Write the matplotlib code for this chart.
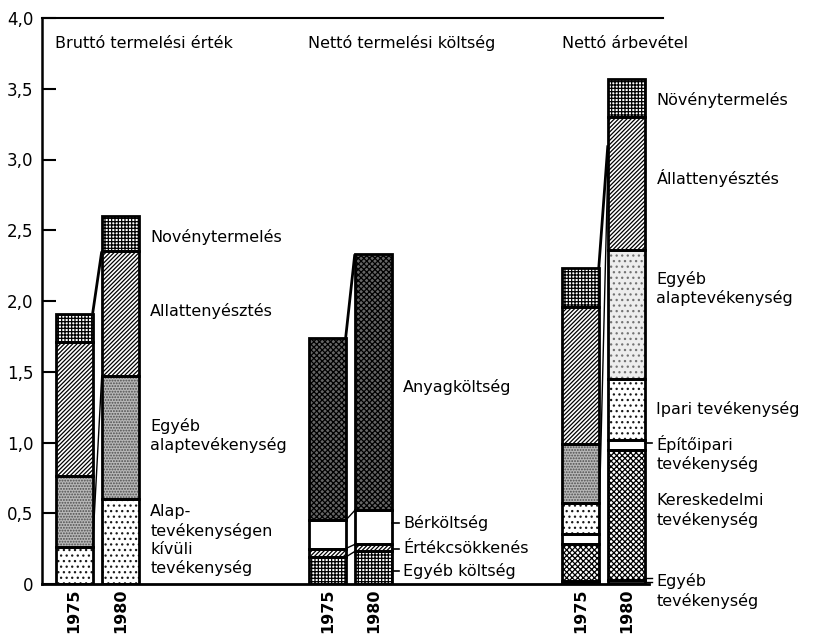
import matplotlib.pyplot as plt

# ----- data -----
years = ["1975", "1980"]
group_titles = ["Bruttó termelési érték", "Nettó termelési költség", "Nettó árbevétel"]

# segments listed bottom -> top
brutto_labels = ["Alap-\ntevékenységen\nkívüli\ntevékenység", "Egyéb\nalaptevékenység",
                 "Allattenyésztés", "Novénytermelés"]
brutto_1975 = [0.26, 0.50, 0.95, 0.20]
brutto_1980 = [0.60, 0.87, 0.88, 0.25]

koltseg_labels = ["Egyéb költség", "Értékcsökkenés", "Bérköltség", "Anyagköltség"]
koltseg_1975 = [0.19, 0.06, 0.20, 1.29]
koltseg_1980 = [0.23, 0.05, 0.24, 1.81]

arbevetel_labels = ["Egyéb\ntevékenység", "Kereskedelmi\ntevékenység", "Építőipari\ntevékenység",
                    "Ipari tevékenység", "Egyéb\nalaptevékenység", "Állattenyésztés", "Növénytermelés"]
arbevetel_1975 = [0.02, 0.26, 0.07, 0.22, 0.42, 0.97, 0.27]
arbevetel_1980 = [0.03, 0.92, 0.07, 0.43, 0.91, 0.94, 0.27]

# label heights (y value of label centre) on the right of each group
brutto_label_y = [0.31, 1.05, 1.93, 2.45]
koltseg_label_y = [0.09, 0.25, 0.43, 1.39]
arbevetel_label_y = [-0.05, 0.52, 0.92, 1.24, 2.09, 2.87, 3.42]

# connector lines between 1975 and 1980 bars: (value at 1975, value at 1980)
brutto_links = [(1.91, 2.35), (0.26, 1.47)]
koltseg_links = [(1.74, 2.33), (0.45, 0.52), (0.25, 0.28), (0.19, 0.23)]
arbevetel_links = [(2.23, 3.10), (0.35, 2.95)]

yticks = [0, 0.5, 1.0, 1.5, 2.0, 2.5, 3.0, 3.5, 4.0]
ytick_labels = ["0", "0,5", "1,0", "1,5", "2,0", "2,5", "3,0", "3,5", "4,0"]

# ----- styles: (facecolor, hatch, hatchcolor) -----
GRID = ("white", "+++++", "black")
DIAG = ("white", "////////", "black")
STIPPLE = ("0.72", "......", "0.3")
STIPPLE_LIGHT = ("0.93", "...", "0.45")
DOTS = ("white", "...", "0.1")
WHITE = ("white", "", "black")
DARK_X = ("0.4", "xxxxxx", "black")
LIGHT_X = ("white", "xxxxxx", "black")
BLACK = ("0.15", "", "black")

brutto_styles = [[DOTS, STIPPLE, DIAG, GRID], [DOTS, STIPPLE, DIAG, GRID]]
koltseg_styles = [[GRID, DIAG, WHITE, DARK_X], [GRID, DIAG, WHITE, DARK_X]]
arbevetel_styles = [[BLACK, LIGHT_X, WHITE, DOTS, STIPPLE, DIAG, GRID],
                    [BLACK, LIGHT_X, WHITE, DOTS, STIPPLE_LIGHT, DIAG, GRID]]

plt.rcParams["hatch.linewidth"] = 0.9
plt.rcParams["font.family"] = "DejaVu Sans"

fig = plt.figure(figsize=(8.19, 6.37), dpi=100)
ax = fig.add_axes([42 / 819, 1 - 584 / 637, 621 / 819, 566 / 637])

OFFSET = 0.091
WIDTH = 0.146
LABEL_DX = 0.21

groups = [
    (brutto_labels, [brutto_1975, brutto_1980], brutto_styles, brutto_label_y, brutto_links),
    (koltseg_labels, [koltseg_1975, koltseg_1980], koltseg_styles, koltseg_label_y, koltseg_links),
    (arbevetel_labels, [arbevetel_1975, arbevetel_1980], arbevetel_styles, arbevetel_label_y,
     arbevetel_links),
]

for gi, (labels, series, styles, label_y, links) in enumerate(groups):
    for yi, values in enumerate(series):
        x = gi + (-OFFSET if yi == 0 else OFFSET)
        bottom = 0.0
        for v, (fc, hatch, hc) in zip(values, styles[yi]):
            ax.bar(x, v, WIDTH, bottom=bottom, color=fc, hatch=hatch, edgecolor=hc,
                   linewidth=0, zorder=2)
            ax.bar(x, v, WIDTH, bottom=bottom, fill=False, edgecolor="black",
                   linewidth=2.0, zorder=3)
            bottom += v
        ax.text(x, -0.03, years[yi], rotation=90, ha="center", va="top",
                fontsize=11.5, fontweight="bold")

    # connectors from 1975 right edge to 1980 left edge
    x0 = gi - OFFSET + WIDTH / 2
    x1 = gi + OFFSET - WIDTH / 2
    for k, (a, b) in enumerate(links):
        lw = 2.0 if k == 0 else 1.0
        ax.plot([x0, x1], [a, b], color="black", linewidth=lw, zorder=4,
                solid_capstyle="butt")

    # group title
    ax.text(gi - 0.165, 3.82, group_titles[gi], ha="left", va="center", fontsize=11.5)

    # segment labels
    lx = gi + LABEL_DX
    for lab, y in zip(labels, label_y):
        ax.text(lx, y, lab, ha="left", va="center", fontsize=11.5, linespacing=1.25,
                clip_on=False)

# small leader dashes for narrow segments
bar_right = 1 + OFFSET + WIDTH / 2
for y in koltseg_label_y[:3]:
    ax.plot([bar_right, bar_right + 0.028], [y, y], color="black", linewidth=1.2,
            clip_on=False)
bar_right = 2 + OFFSET + WIDTH / 2
ax.plot([bar_right, bar_right + 0.028], [1.0, 1.0], color="black", linewidth=1.2,
        clip_on=False)
for dy in (0.0, 0.03):
    ax.plot([bar_right, bar_right + 0.028], [0.015 + dy, 0.015 + dy], color="black",
            linewidth=1.0, clip_on=False)

ax.set_xlim(-0.218, 2.236)
ax.set_ylim(0, 4.0)
ax.set_yticks(yticks)
ax.set_yticklabels(ytick_labels, fontsize=12)
ax.set_xticks([])
ax.tick_params(axis="y", direction="in", length=10, width=1.5, pad=6)

ax.spines["right"].set_visible(False)
ax.spines["left"].set_linewidth(1.8)
ax.spines["top"].set_linewidth(1.5)
ax.spines["bottom"].set_linewidth(2.0)
ax.spines["bottom"].set_bounds(-0.218, 2.18)

fig.savefig("out.png", dpi=100)
